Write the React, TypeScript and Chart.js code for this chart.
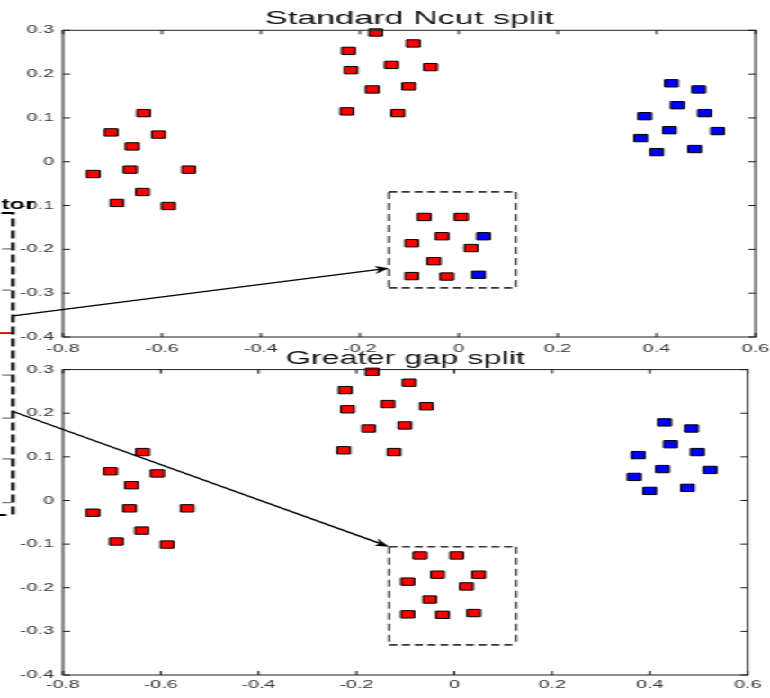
import React, { useEffect, useRef } from 'react';
import { Chart, registerables } from 'chart.js';

Chart.register(...registerables);

// ---------- data ----------
const X_TICKS = [-0.8, -0.6, -0.4, -0.2, 0, 0.2, 0.4, 0.6];
const Y_TICKS = [-0.4, -0.3, -0.2, -0.1, 0, 0.1, 0.2, 0.3];

const LEFT_X = [-0.637, -0.703, -0.607, -0.66, -0.739, -0.664, -0.546, -0.639, -0.691, -0.587];
const LEFT_Y = [0.111, 0.067, 0.062, 0.035, -0.028, -0.018, -0.018, -0.069, -0.094, -0.101];
const MID_X = [-0.168, -0.092, -0.223, -0.136, -0.218, -0.057, -0.175, -0.101, -0.226, -0.123];
const MID_Y = [0.295, 0.27, 0.253, 0.221, 0.209, 0.216, 0.165, 0.172, 0.115, 0.111];
const RIGHT_X = [0.43, 0.485, 0.442, 0.376, 0.497, 0.426, 0.523, 0.368, 0.4, 0.477];
const RIGHT_Y = [0.179, 0.165, 0.129, 0.104, 0.111, 0.072, 0.07, 0.054, 0.022, 0.029];
const BOX_X = [-0.07, 0.005, -0.034, 0.05, -0.095, 0.025, -0.05, -0.095, -0.024, 0.04];
const BOX_Y = [-0.126, -0.126, -0.17, -0.17, -0.186, -0.197, -0.227, -0.261, -0.262, -0.258];

const BOX_LABELS_TOP = ['red', 'red', 'red', 'blue', 'red', 'red', 'red', 'red', 'red', 'blue'];
const BOX_LABELS_BOTTOM = ['red', 'red', 'red', 'red', 'red', 'red', 'red', 'red', 'red', 'red'];

const TITLE_TOP = 'Standard Ncut split';
const TITLE_BOTTOM = 'Greater gap split';

// annotation rectangles [xMin, xMax, yMin, yMax] and arrows [x1, y1, x2, y2] in data units
const TOP_BOX = [-0.141, 0.115, -0.288, -0.069];
const BOTTOM_BOX = [-0.133, 0.126, -0.331, -0.106];
const TOP_ARROW = [-0.901, -0.352, -0.141, -0.243];
const BOTTOM_ARROW = [-0.902, 0.204, -0.133, -0.106];

// cropped neighbouring figure at the left edge (top chart data units)
const CROP_FRAME = [-0.968, -0.901, -0.806, -0.117];
const CROP_TICKS_Y = [-0.199, -0.293, -0.487, -0.585, -0.678, -0.778];
const CROP_TICK_X = [-0.923, -0.905];
const CROP_RED_Y = -0.391;
const CROP_RED_X = [-0.93, -0.903];
const CROP_LABEL = 'tor';
const CROP_LABEL_POS = [-0.857, -0.108];

// ---------- layout ----------
const W = 428;
const H = 698;
const SX = 770 / W;
const FONT = "'Liberation Sans', Arial, Helvetica, sans-serif";
const TICK_LEN = 4;

Chart.defaults.font.family = FONT;

function pts(xs: number[], ys: number[], labels?: string[], want?: string) {
  const out: { x: number; y: number }[] = [];
  xs.forEach((x, i) => {
    if (!labels || labels[i] === want) out.push({ x, y: ys[i] });
  });
  return out;
}

function drawArrow(ctx: CanvasRenderingContext2D, x1: number, y1: number, x2: number, y2: number) {
  // computed in display space so the head is not distorted by the horizontal stretch
  const dx = (x2 - x1) * SX;
  const dy = y2 - y1;
  const len = Math.hypot(dx, dy);
  const ux = dx / len;
  const uy = dy / len;
  const hl = 14;
  const hw = 4;
  const back = 10;
  const bx = x2 * SX - ux * hl;
  const by = y2 - uy * hl;
  const nx = -uy;
  const ny = ux;
  const p1 = [(bx + nx * hw) / SX, by + ny * hw];
  const p2 = [(bx - nx * hw) / SX, by - ny * hw];
  const pn = [(x2 * SX - ux * back) / SX, y2 - uy * back];
  ctx.beginPath();
  ctx.moveTo(x1, y1);
  ctx.lineTo(pn[0], pn[1]);
  ctx.stroke();
  ctx.beginPath();
  ctx.moveTo(x2, y2);
  ctx.lineTo(p1[0], p1[1]);
  ctx.lineTo(pn[0], pn[1]);
  ctx.lineTo(p2[0], p2[1]);
  ctx.closePath();
  ctx.fill();
}

function makePlugin(box: number[], arrow: number[], withCrop: boolean) {
  return {
    id: 'matlabDecor',
    afterDatasetsDraw(chart: any) {
      const { ctx, chartArea: a } = chart;
      const xs = chart.scales.x;
      const ys = chart.scales.y;
      const px = (v: number) => xs.getPixelForValue(v);
      const py = (v: number) => ys.getPixelForValue(v);
      ctx.save();
      // axes box with inward ticks
      ctx.strokeStyle = '#1e1e1e';
      ctx.lineWidth = 1;
      ctx.setLineDash([]);
      ctx.strokeRect(a.left, a.top, a.right - a.left, a.bottom - a.top);
      ctx.beginPath();
      X_TICKS.forEach((v) => {
        const p = px(v);
        ctx.moveTo(p, a.bottom);
        ctx.lineTo(p, a.bottom - TICK_LEN);
        ctx.moveTo(p, a.top);
        ctx.lineTo(p, a.top + TICK_LEN);
      });
      Y_TICKS.forEach((v) => {
        const p = py(v);
        ctx.moveTo(a.left, p);
        ctx.lineTo(a.left + TICK_LEN, p);
        ctx.moveTo(a.right, p);
        ctx.lineTo(a.right - TICK_LEN, p);
      });
      ctx.stroke();

      // dashed selection box
      const l = px(box[0]);
      const r = px(box[1]);
      const b = py(box[2]);
      const t = py(box[3]);
      ctx.strokeStyle = '#333';
      ctx.lineWidth = 1.7;
      ctx.setLineDash([4.5, 2.6]);
      ctx.beginPath();
      ctx.moveTo(l, t);
      ctx.lineTo(r, t);
      ctx.moveTo(l, b);
      ctx.lineTo(r, b);
      ctx.stroke();
      ctx.lineWidth = 1.3;
      ctx.setLineDash([7, 4]);
      ctx.beginPath();
      ctx.moveTo(l, t);
      ctx.lineTo(l, b);
      ctx.moveTo(r, t);
      ctx.lineTo(r, b);
      ctx.stroke();

      // arrow
      ctx.setLineDash([]);
      ctx.strokeStyle = '#000';
      ctx.fillStyle = '#000';
      ctx.lineWidth = 1.3;
      drawArrow(ctx, px(arrow[0]), py(arrow[1]), px(arrow[2]), py(arrow[3]));

      if (withCrop) {
        // neighbouring figure remnants
        ctx.strokeStyle = '#777';
        ctx.lineWidth = 1.3;
        ctx.beginPath();
        CROP_TICKS_Y.forEach((v) => {
          ctx.moveTo(px(CROP_TICK_X[0]), py(v));
          ctx.lineTo(px(CROP_TICK_X[1]), py(v));
        });
        ctx.stroke();
        ctx.strokeStyle = '#e00000';
        ctx.lineWidth = 1.8;
        ctx.beginPath();
        ctx.moveTo(px(CROP_RED_X[0]), py(CROP_RED_Y));
        ctx.lineTo(px(CROP_RED_X[1]), py(CROP_RED_Y));
        ctx.stroke();
        ctx.strokeStyle = '#000';
        ctx.lineWidth = 2;
        ctx.setLineDash([8, 4]);
        ctx.beginPath();
        ctx.moveTo(px(CROP_FRAME[0]), py(CROP_FRAME[3]));
        ctx.lineTo(px(CROP_FRAME[1]), py(CROP_FRAME[3]));
        ctx.lineTo(px(CROP_FRAME[1]), py(CROP_FRAME[2]));
        ctx.lineTo(px(CROP_FRAME[0]), py(CROP_FRAME[2]));
        ctx.stroke();
        ctx.setLineDash([]);
        ctx.fillStyle = '#000';
        ctx.font = `bold 14px ${FONT}`;
        ctx.textAlign = 'right';
        ctx.textBaseline = 'alphabetic';
        ctx.fillText(CROP_LABEL, px(CROP_LABEL_POS[0]), py(CROP_LABEL_POS[1]));
      }
      ctx.restore();
    },
  };
}

function clearScalePadding(s: any) {
  s.paddingLeft = 0;
  s.paddingRight = 0;
  s.paddingTop = 0;
  s.paddingBottom = 0;
}

function buildConfig(top: boolean): any {
  const labels = top ? BOX_LABELS_TOP : BOX_LABELS_BOTTOM;
  const red = [
    ...pts(LEFT_X, LEFT_Y),
    ...pts(MID_X, MID_Y),
    ...pts(BOX_X, BOX_Y, labels, 'red'),
  ];
  const blue = [...pts(RIGHT_X, RIGHT_Y), ...pts(BOX_X, BOX_Y, labels, 'blue')];
  const pointCommon = {
    pointStyle: 'rect',
    pointRadius: 5.2,
    pointBorderColor: '#000',
    pointBorderWidth: 1,
    showLine: false,
    clip: false,
  };
  const tickFont = { size: 11, family: FONT };
  return {
    type: 'scatter',
    data: {
      datasets: [
        { label: 'red', data: red, pointBackgroundColor: '#ff0000', ...pointCommon },
        { label: 'blue', data: blue, pointBackgroundColor: '#0000ff', ...pointCommon },
      ],
    },
    options: {
      animation: false,
      responsive: false,
      events: [],
      layout: {
        padding: top
          ? { left: 5, right: W - 420, top: 0, bottom: H - 337 - 20 }
          : { left: 5, right: W - 415.6, top: 339.5, bottom: H - 675 - 20 },
      },
      plugins: {
        legend: { display: false },
        tooltip: { enabled: false },
        title: {
          display: true,
          text: top ? TITLE_TOP : TITLE_BOTTOM,
          fullSize: false,
          color: '#111',
          font: { size: top ? 19 : 18, weight: 'normal', family: FONT },
          padding: { top: top ? 7.5 : 8.5, bottom: 0 },
        },
      },
      scales: {
        x: {
          type: 'linear',
          min: -0.8,
          max: 0.6,
          afterFit: (s: any) => {
            s.height = 20;
            clearScalePadding(s);
          },
          afterBuildTicks: (s: any) => {
            s.ticks = X_TICKS.map((v) => ({ value: v }));
          },
          ticks: {
            font: tickFont,
            color: '#333',
            padding: top ? 5 : 3,
            maxRotation: 0,
            autoSkip: false,
          },
          grid: { display: false, drawTicks: false },
          border: { display: false },
        },
        y: {
          type: 'linear',
          min: -0.4,
          max: 0.3,
          afterFit: (s: any) => {
            s.width = 30;
            clearScalePadding(s);
          },
          afterBuildTicks: (s: any) => {
            s.ticks = Y_TICKS.map((v) => ({ value: v }));
          },
          ticks: {
            font: tickFont,
            color: '#333',
            padding: 5,
            autoSkip: false,
          },
          grid: { display: false, drawTicks: false },
          border: { display: false },
        },
      },
    },
    plugins: [makePlugin(top ? TOP_BOX : BOTTOM_BOX, top ? TOP_ARROW : BOTTOM_ARROW, top)],
  };
}

export default function App() {
  const topRef = useRef<HTMLCanvasElement>(null);
  const botRef = useRef<HTMLCanvasElement>(null);
  useEffect(() => {
    const c1 = new Chart(topRef.current as HTMLCanvasElement, buildConfig(true));
    const c2 = new Chart(botRef.current as HTMLCanvasElement, buildConfig(false));
    return () => {
      c1.destroy();
      c2.destroy();
    };
  }, []);
  return (
    <div
      style={{
        position: 'absolute',
        left: 0,
        top: 0,
        width: W,
        height: H,
        transform: `scaleX(${SX})`,
        transformOrigin: '0 0',
        background: '#fff',
      }}
    >
      <canvas ref={topRef} width={W} height={H} style={{ position: 'absolute', left: 0, top: 0 }} />
      <canvas ref={botRef} width={W} height={H} style={{ position: 'absolute', left: 0, top: 0 }} />
    </div>
  );
}
